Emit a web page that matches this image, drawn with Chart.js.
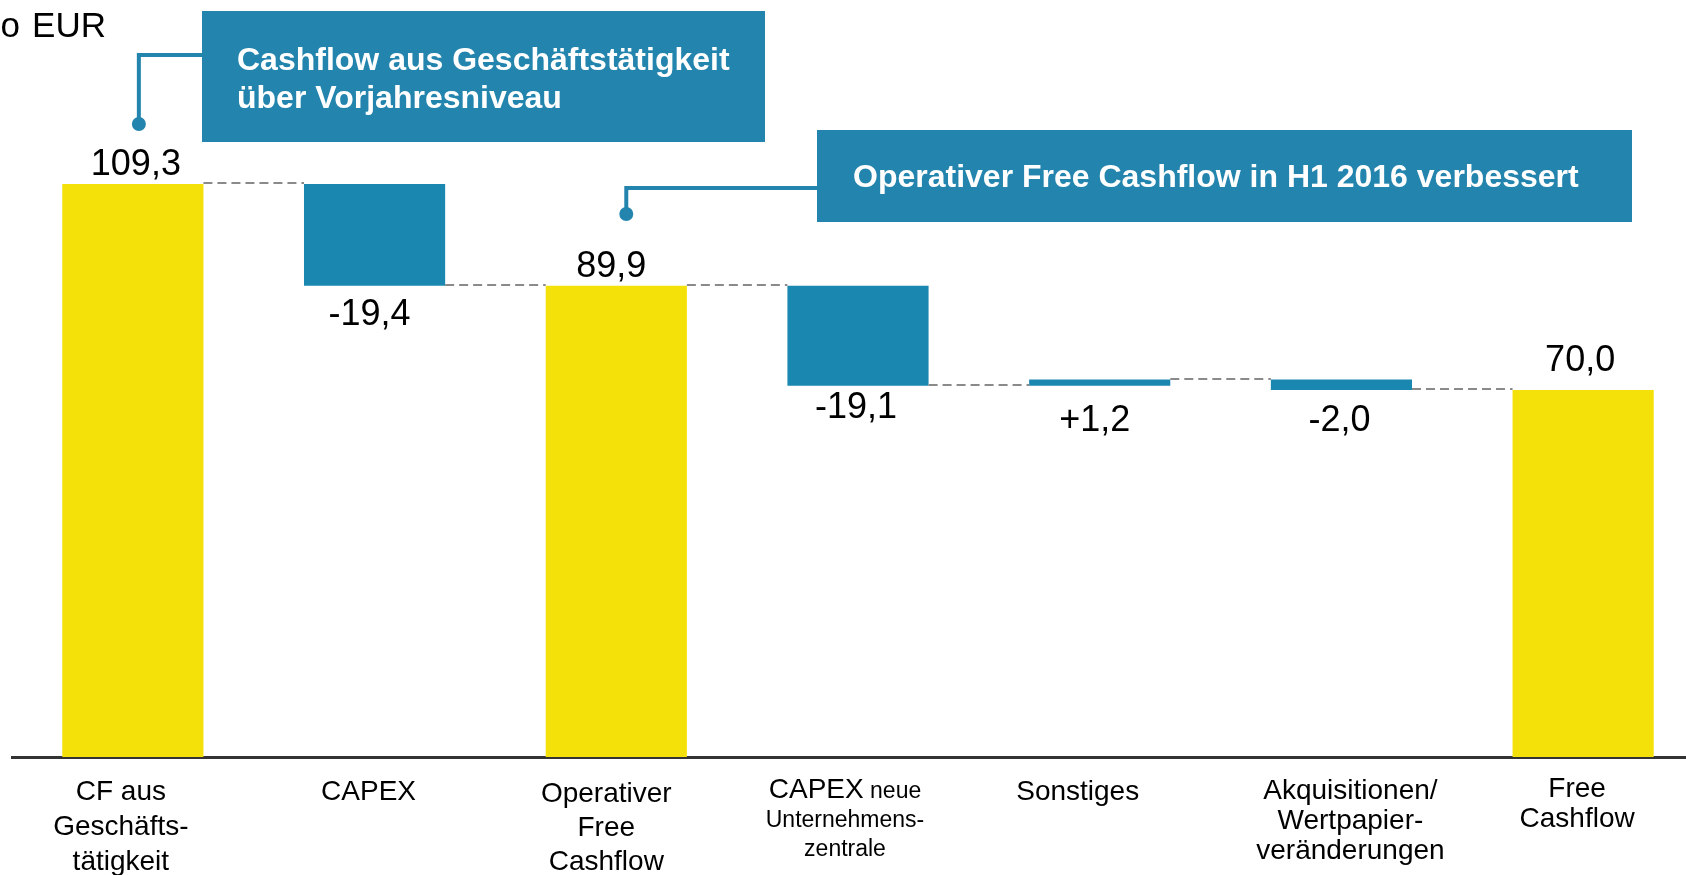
<!DOCTYPE html>
<html>
<head>
<meta charset="utf-8">
<script src="https://cdn.jsdelivr.net/npm/chart.js@4.4.1/dist/chart.umd.min.js"></script>
<style>
  html, body { margin: 0; padding: 0; background: #fff; overflow: hidden; }
  #wrap { position: relative; width: 1686px; height: 875px; overflow: hidden; }
  canvas { display: block; }
</style>
</head>
<body>
<div id="wrap"><canvas id="chart" width="1704" height="875"></canvas></div>
<script>
const categories = [
  "CF aus Geschäftstätigkeit",
  "CAPEX",
  "Operativer Free Cashflow",
  "CAPEX neue Unternehmenszentrale",
  "Sonstiges",
  "Akquisitionen/Wertpapierveränderungen",
  "Free Cashflow"
];
// how each category label is broken into lines (small = smaller font)
const categoryLines = [
  [[{ t: "CF aus" }], [{ t: "Geschäfts-" }], [{ t: "tätigkeit" }]],
  [[{ t: "CAPEX" }]],
  [[{ t: "Operativer" }], [{ t: "Free" }], [{ t: "Cashflow" }]],
  [[{ t: "CAPEX" }, { t: " neue", small: true }], [{ t: "Unternehmens-", small: true }], [{ t: "zentrale", small: true }]],
  [[{ t: "Sonstiges" }]],
  [[{ t: "Akquisitionen/" }], [{ t: "Wertpapier-" }], [{ t: "veränderungen" }]],
  [[{ t: "Free" }], [{ t: "Cashflow" }]]
];
const changes = [109.3, -19.4, 89.9, -19.1, 1.2, -2.0, 70.0];
const isTotal = [true, false, true, false, false, false, true];
const valueLabels = ["109,3", "-19,4", "89,9", "-19,1", "+1,2", "-2,0", "70,0"];
const unitWords = ["Mio", "EUR"];
const calloutTexts = [
  ["Cashflow aus Geschäftstätigkeit", "über Vorjahresniveau"],
  ["Operativer Free Cashflow in H1 2016 verbessert"]
];

// styling / layout helpers (not data)
const YELLOW = "#F4E10A";
const BLUE = "#1A87B1";
const BOX_BLUE = "#2385AE";
const FONT = "'Liberation Sans', Arial, Helvetica, sans-serif";
const valueGap = [9, 39, 9, 32, 45, 41, 19];
const valueShift = [3, -5, -5, -2, -5, -2, -3];
const catShift = [-12, -6, -10, -13, -22, 9, -6];
const catFirst = [43, 43, 45, 41, 43, 42, 40];
const catLineH = [35, 35, 34, 29, 35, 30, 30];

// build floating bars + connector levels from the changes
const ranges = [];
const levels = [];
let running = 0;
changes.forEach((v, i) => {
  if (isTotal[i]) {
    ranges.push([0, v]);
    running = v;
  } else {
    ranges.push([running, running + v]);
    running = Math.round((running + v) * 10) / 10;
  }
  levels.push(running);
});

const decor = {
  id: "decor",
  afterDatasetsDraw(chart) {
    const { ctx } = chart;
    const meta = chart.getDatasetMeta(0);
    const y = chart.scales.y;
    const area = chart.chartArea;

    // dashed connectors
    ctx.save();
    ctx.strokeStyle = "#8a8a8a";
    ctx.lineWidth = 2;
    ctx.setLineDash([9, 5]);
    for (let i = 0; i < meta.data.length - 1; i++) {
      const a = meta.data[i], b = meta.data[i + 1];
      const py = Math.round(y.getPixelForValue(levels[i])) - 1;
      ctx.beginPath();
      ctx.moveTo(a.x + a.width / 2, py);
      ctx.lineTo(b.x - b.width / 2, py);
      ctx.stroke();
    }
    ctx.restore();

    // value labels
    ctx.save();
    ctx.fillStyle = "#000";
    ctx.font = "36px " + FONT;
    ctx.textAlign = "center";
    ctx.textBaseline = "alphabetic";
    meta.data.forEach((bar, i) => {
      const top = Math.min(bar.y, bar.base);
      const bottom = Math.max(bar.y, bar.base);
      const x = bar.x + valueShift[i];
      if (isTotal[i]) {
        ctx.fillText(valueLabels[i], x, top - valueGap[i]);
      } else {
        ctx.fillText(valueLabels[i], x, bottom + valueGap[i]);
      }
    });
    ctx.restore();

    // category labels
    ctx.save();
    ctx.fillStyle = "#000";
    ctx.textBaseline = "alphabetic";
    ctx.textAlign = "left";
    meta.data.forEach((bar, i) => {
      const cx = bar.x + catShift[i];
      categoryLines[i].forEach((line, li) => {
        let w = 0;
        line.forEach(seg => {
          ctx.font = (seg.small ? "23px " : "28px ") + FONT;
          w += ctx.measureText(seg.t).width;
        });
        let x = cx - w / 2;
        const by = area.bottom + catFirst[i] + li * catLineH[i];
        line.forEach(seg => {
          ctx.font = (seg.small ? "23px " : "28px ") + FONT;
          ctx.fillText(seg.t, x, by);
          x += ctx.measureText(seg.t).width;
        });
      });
    });
    ctx.restore();
  },
  afterDraw(chart) {
    const { ctx } = chart;
    const meta = chart.getDatasetMeta(0);

    // unit label (cut off at the left edge, as in the slide)
    ctx.save();
    ctx.fillStyle = "#000";
    ctx.font = "35px " + FONT;
    ctx.textAlign = "right";
    ctx.fillText(unitWords[0], 20, 37);
    ctx.fillText(unitWords[1], 106, 37);
    ctx.restore();

    const boxes = [
      { x: 202, y: 11, w: 563, h: 131, tx: 237, ty: [70, 108], lineY: 55, dotX: meta.data[0].x + 6, dotY: 124 },
      { x: 817, y: 130, w: 815, h: 92, tx: 853, ty: [187], lineY: 188, dotX: meta.data[2].x + 10, dotY: 214 }
    ];
    boxes.forEach((b, i) => {
      ctx.save();
      ctx.strokeStyle = BOX_BLUE;
      ctx.fillStyle = BOX_BLUE;
      ctx.lineWidth = 4;
      ctx.lineJoin = "miter";
      ctx.beginPath();
      ctx.moveTo(b.x, b.lineY);
      ctx.lineTo(b.dotX, b.lineY);
      ctx.lineTo(b.dotX, b.dotY);
      ctx.stroke();
      ctx.beginPath();
      ctx.arc(b.dotX, b.dotY, 7, 0, Math.PI * 2);
      ctx.fill();
      ctx.fillRect(b.x, b.y, b.w, b.h);
      ctx.fillStyle = "#fff";
      ctx.font = "bold 32px " + FONT;
      ctx.textAlign = "left";
      calloutTexts[i].forEach((t, li) => ctx.fillText(t, b.tx, b.ty[li]));
      ctx.restore();
    });
  }
};

new Chart(document.getElementById("chart"), {
  type: "bar",
  data: {
    labels: categories,
    datasets: [{
      data: ranges,
      backgroundColor: isTotal.map(t => t ? YELLOW : BLUE),
      borderWidth: 0,
      borderSkipped: false,
      barPercentage: 0.584,
      categoryPercentage: 1
    }]
  },
  options: {
    responsive: false,
    animation: false,
    devicePixelRatio: 1,
    layout: { padding: { left: 12, right: 0, top: 23, bottom: 118 } },
    plugins: { legend: { display: false }, tooltip: { enabled: false } },
    scales: {
      x: {
        grid: { display: false, drawTicks: false },
        border: { display: true, color: "#333", width: 3 },
        ticks: { display: false }
      },
      y: { display: false, min: 0, max: 140 }
    }
  },
  plugins: [decor]
});
</script>
</body>
</html>
